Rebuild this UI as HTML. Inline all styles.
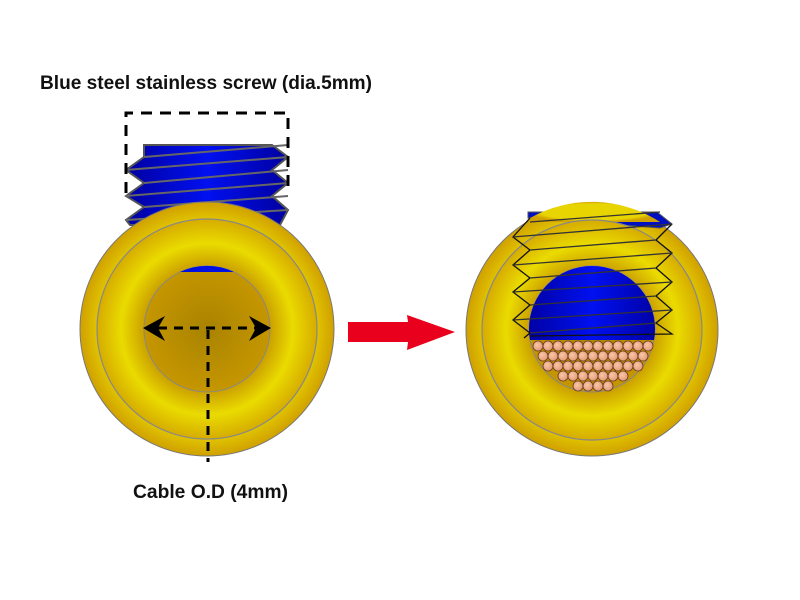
<!DOCTYPE html>
<html><head><meta charset="utf-8"><style>
html,body{margin:0;padding:0;background:#fff;width:800px;height:600px;overflow:hidden}
svg{display:block}
text{font-family:"Liberation Sans",sans-serif;font-weight:bold;fill:#111}
</style></head><body>
<svg width="800" height="600" viewBox="0 0 800 600" xmlns="http://www.w3.org/2000/svg">
<defs>
<radialGradient id="outer" cx="0.5" cy="0.5" r="0.5">
<stop offset="0.8" stop-color="#e8d400"/><stop offset="1" stop-color="#d0a000"/></radialGradient>
<radialGradient id="ring" cx="0.5" cy="0.5" r="0.5">
<stop offset="0.55" stop-color="#c89a00"/><stop offset="0.78" stop-color="#eadb00"/><stop offset="1" stop-color="#d6ac00"/></radialGradient>
<radialGradient id="hole" cx="0.5" cy="0.5" r="0.5">
<stop offset="0" stop-color="#a98300"/><stop offset="1" stop-color="#c59600"/></radialGradient>
<linearGradient id="blue" x1="0" x2="1" y1="0" y2="0">
<stop offset="0" stop-color="#0000a0"/><stop offset="0.5" stop-color="#0010f0"/><stop offset="1" stop-color="#0000a0"/></linearGradient>
<radialGradient id="cu" cx="0.4" cy="0.4" r="0.6"><stop offset="0" stop-color="#f8c8a8"/><stop offset="1" stop-color="#e39a78"/></radialGradient>
<clipPath id="hc2"><circle cx="592" cy="329" r="63"/></clipPath>
</defs>
<text x="40" y="89" font-size="19" textLength="332" lengthAdjust="spacingAndGlyphs">Blue steel stainless screw (dia.5mm)</text>
<!-- left screw -->
<polygon points="144,145 272,145 288,157 272,170 288,183 272,196 288,210 280,225 130,225 126,220 144,207 126,196 144,183 126,170 144,157" fill="url(#blue)" stroke="#555" stroke-width="2"/>
<g stroke="#666" stroke-width="2"><line x1="144" y1="157" x2="288" y2="145"/><line x1="126" y1="170" x2="288" y2="157"/><line x1="144" y1="183" x2="288" y2="170"/><line x1="126" y1="196" x2="288" y2="183"/><line x1="144" y1="207" x2="288" y2="196"/><line x1="126" y1="220" x2="288" y2="210"/></g>
<path d="M126,193 L126,113 L288,113 L288,193" fill="none" stroke="#000" stroke-width="3" stroke-dasharray="11,8"/>
<!-- left nut -->
<circle cx="207" cy="329" r="127" fill="url(#outer)" stroke="#777" stroke-width="1"/>
<circle cx="207" cy="329" r="110" fill="url(#ring)" stroke="#888" stroke-width="1.2"/>
<circle cx="207" cy="329" r="63" fill="url(#hole)" stroke="#888" stroke-width="1"/>
<path d="M180,272 A63,63 0 0 1 234,272 Z" fill="#0010e0"/>
<g stroke="#000" stroke-width="3" stroke-dasharray="9,7"><line x1="158" y1="328" x2="258" y2="328"/><line x1="208" y1="330" x2="208" y2="462"/></g>
<polygon points="143,328 165,316 158,328 165,341" fill="#000"/>
<polygon points="271,328 249,316 256,328 249,341" fill="#000"/>
<text x="133" y="498" font-size="19" textLength="155" lengthAdjust="spacingAndGlyphs">Cable O.D (4mm)</text>
<!-- arrow -->
<polygon points="348,322 408,322 407,315 455,332 407,350 408,342 348,342" fill="#e8001c"/>
<!-- right nut -->
<circle cx="592" cy="330" r="126" fill="url(#outer)" stroke="#777" stroke-width="1"/>
<polygon points="528,212 657,212 672,224 660,228 528,218" fill="#0010c0" stroke="#555"/>
<path d="M530,218 A126,126 0 0 1 660,222 L528,222 Z" fill="url(#outer)"/>
<circle cx="592" cy="330" r="110" fill="url(#ring)" stroke="#888" stroke-width="1.2"/>
<circle cx="592" cy="329" r="63" fill="url(#hole)" stroke="#888" stroke-width="1"/>
<g clip-path="url(#hc2)"><rect x="525" y="260" width="135" height="80" fill="url(#blue)"/></g>
<g fill="url(#cu)" stroke="#6a3a20" stroke-width="0.8">
<circle cx="538" cy="346" r="5"/><circle cx="548" cy="346" r="5"/><circle cx="558" cy="346" r="5"/><circle cx="568" cy="346" r="5"/><circle cx="578" cy="346" r="5"/><circle cx="588" cy="346" r="5"/><circle cx="598" cy="346" r="5"/><circle cx="608" cy="346" r="5"/><circle cx="618" cy="346" r="5"/><circle cx="628" cy="346" r="5"/><circle cx="638" cy="346" r="5"/><circle cx="648" cy="346" r="5"/>
<circle cx="543" cy="356" r="5"/><circle cx="553" cy="356" r="5"/><circle cx="563" cy="356" r="5"/><circle cx="573" cy="356" r="5"/><circle cx="583" cy="356" r="5"/><circle cx="593" cy="356" r="5"/><circle cx="603" cy="356" r="5"/><circle cx="613" cy="356" r="5"/><circle cx="623" cy="356" r="5"/><circle cx="633" cy="356" r="5"/><circle cx="643" cy="356" r="5"/>
<circle cx="548" cy="366" r="5"/><circle cx="558" cy="366" r="5"/><circle cx="568" cy="366" r="5"/><circle cx="578" cy="366" r="5"/><circle cx="588" cy="366" r="5"/><circle cx="598" cy="366" r="5"/><circle cx="608" cy="366" r="5"/><circle cx="618" cy="366" r="5"/><circle cx="628" cy="366" r="5"/><circle cx="638" cy="366" r="5"/>
<circle cx="563" cy="376" r="5"/><circle cx="573" cy="376" r="5"/><circle cx="583" cy="376" r="5"/><circle cx="593" cy="376" r="5"/><circle cx="603" cy="376" r="5"/><circle cx="613" cy="376" r="5"/><circle cx="623" cy="376" r="5"/>
<circle cx="578" cy="386" r="5"/><circle cx="588" cy="386" r="5"/><circle cx="598" cy="386" r="5"/><circle cx="608" cy="386" r="5"/>
</g>
<g fill="none" stroke="#111" stroke-width="1.3">
<polyline points="530,218 513,237 530,250 513,265 530,278 513,292 530,305 513,320 530,333 524,338"/>
<polyline points="672,224 656,240 672,253 656,268 672,282 656,296 672,310 656,323 672,334 530,336"/>
</g>
<g stroke="#333" stroke-width="1.3">
<line x1="530" y1="222" x2="660" y2="212"/><line x1="513" y1="237" x2="672" y2="224"/><line x1="530" y1="250" x2="656" y2="240"/><line x1="513" y1="265" x2="672" y2="253"/><line x1="530" y1="278" x2="656" y2="268"/><line x1="513" y1="292" x2="672" y2="282"/><line x1="530" y1="305" x2="656" y2="296"/><line x1="513" y1="320" x2="672" y2="310"/><line x1="530" y1="333" x2="656" y2="323"/>
</g>
</svg>
</body></html>
